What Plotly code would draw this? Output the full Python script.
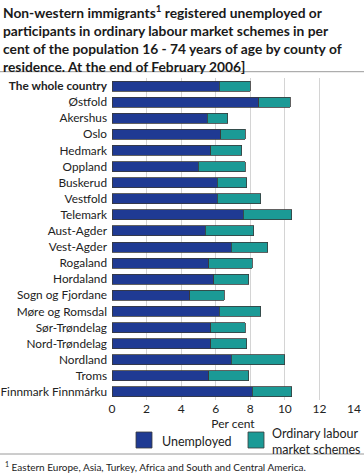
import plotly.graph_objects as go

counties = ["The whole country", "Østfold", "Akershus", "Oslo", "Hedmark", "Oppland",
            "Buskerud", "Vestfold", "Telemark", "Aust-Agder", "Vest-Agder", "Rogaland",
            "Hordaland", "Sogn og Fjordane", "Møre og Romsdal", "Sør-Trøndelag",
            "Nord-Trøndelag", "Nordland", "Troms", "Finnmark Finnmárku"]
unemployed = [6.2, 8.5, 5.5, 6.3, 5.7, 5.0, 6.1, 6.1, 7.6, 5.4, 6.9, 5.6, 5.9, 4.5, 6.2,
              5.7, 5.7, 6.9, 5.6, 8.1]
schemes = [1.8, 1.8, 1.2, 1.4, 1.8, 2.7, 1.7, 2.5, 2.8, 2.8, 2.1, 2.5, 2.0, 2.0, 2.4,
           2.0, 2.1, 3.1, 2.3, 2.3]
x_ticks = [0, 2, 4, 6, 8, 10, 12, 14]
series_names = ["Unemployed", "Ordinary labour<br>market schemes"]
colors = ["#1f3a93", "#1b9a96"]

tick_text = ["<b>" + c + "</b>" if i == 0 else c for i, c in enumerate(counties)]

FONT = "Lato"
W, H = 364, 473
L, R, T, B = 112, 10, 78, 73
PW, PH = W - L - R, H - T - B

def px(x):
    return (x - L) / PW

def py(y):
    return (H - B - y) / PH

fig = go.Figure()
for name, vals, col in zip(series_names, [unemployed, schemes], colors):
    fig.add_trace(go.Bar(
        y=counties, x=vals, orientation="h", name=name,
        marker=dict(color=col, line=dict(color="#3a3a3a", width=0.8)),
        showlegend=False,
    ))

fig.update_layout(
    width=W, height=H, barmode="stack", bargap=0.38,
    margin=dict(l=L, r=R, t=T, b=B, pad=0, autoexpand=False),
    paper_bgcolor="white", plot_bgcolor="white",
    font=dict(family=FONT, size=12, color="#222"),
    xaxis=dict(range=[0, 14], tickvals=x_ticks, showgrid=True, gridcolor="#d4d4d4",
               gridwidth=1, zeroline=False, showline=False, ticks="", automargin=False,
               tickfont=dict(size=12, color="#222"),
               title=dict(text="Per cent", font=dict(size=12, color="#222"), standoff=0)),
    yaxis=dict(categoryorder="array", categoryarray=counties, autorange="reversed",
               tickvals=counties, ticktext=tick_text, ticks="", showgrid=False,
               zeroline=False, showline=False, ticklabelstandoff=4, automargin=False,
               tickfont=dict(size=11.8, color="#222")),
)

fig.add_annotation(
    text="Non-western immigrants<sup>1</sup> registered unemployed or<br>"
         "participants in ordinary labour market schemes in per<br>"
         "cent of the population 16 - 74 years of age by county of<br>"
         "residence. At the end of February 2006]",
    xref="paper", yref="paper", x=px(1), y=py(0), xanchor="left", yanchor="top",
    align="left", showarrow=False,
    font=dict(family=FONT, size=13.8, color="#1a1a1a", weight="bold"),
)

# rules
for yy in (71.7, 454):
    fig.add_shape(type="line", xref="paper", yref="paper", x0=px(0), x1=px(W),
                  y0=py(yy), y1=py(yy), line=dict(color="#9a9a9a", width=1))

# legend
legend_pos = [(136, 160), (248, 270)]
for (sx, tx), name, col in zip(legend_pos, series_names, colors):
    fig.add_shape(type="rect", xref="paper", yref="paper", x0=px(sx), x1=px(sx + 16),
                  y0=py(448), y1=py(432), fillcolor=col,
                  line=dict(color="#3a3a3a", width=0.8))
    fig.add_annotation(text=name, xref="paper", yref="paper", x=px(tx), y=py(441),
                       xanchor="left", yanchor="middle", align="left", showarrow=False,
                       font=dict(size=12.5, color="#222"))

fig.add_annotation(
    text="<sup>1</sup> Eastern Europe, Asia, Turkey, Africa and South and Central America.",
    xref="paper", yref="paper", x=px(3), y=py(466), xanchor="left", yanchor="middle",
    align="left", showarrow=False, font=dict(size=10, color="#222"),
)

fig.write_html("out.html", config={"displayModeBar": False},
               post_script="document.body.style.margin='0';")
